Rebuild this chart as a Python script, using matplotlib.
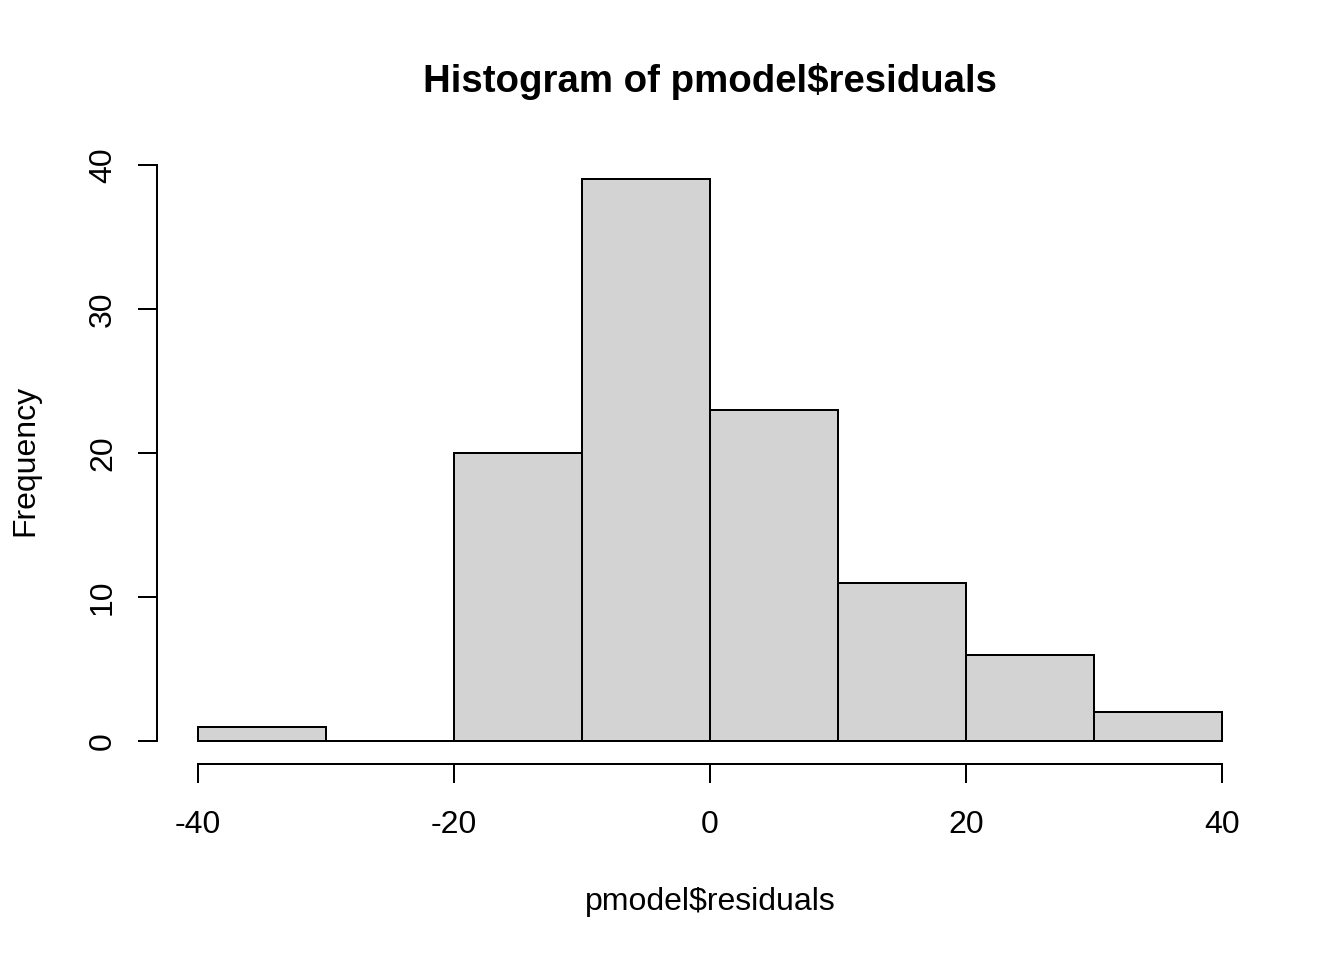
import matplotlib
matplotlib.use("Agg")
import matplotlib.pyplot as plt

plt.rcParams["font.family"] = ["Liberation Sans", "DejaVu Sans"]

# histogram of residuals (R default breaks)
bin_edges = [-40, -30, -20, -10, 0, 10, 20, 30, 40]
counts = [1, 0, 20, 39, 23, 11, 6, 2]
x_ticks = [-40, -20, 0, 20, 40]
y_ticks = [0, 10, 20, 30, 40]

LW = 1.44  # R lwd=1 at this resolution
FS = 23

fig = plt.figure(figsize=(13.44, 9.6), dpi=100)
ax = fig.add_axes([157 / 1344, 1 - 763.5 / 960, (1263 - 157) / 1344, (763.5 - 157) / 960])

widths = [b - a for a, b in zip(bin_edges[:-1], bin_edges[1:])]
ax.bar(bin_edges[:-1], counts, width=widths, align="edge",
       color="#D3D3D3", edgecolor="black", linewidth=LW)

ax.set_xlim(-43.2, 43.2)
ax.set_ylim(-1.56, 40.56)

for s in ("top", "right"):
    ax.spines[s].set_visible(False)
ax.spines["left"].set_bounds(0, 40)
ax.spines["bottom"].set_bounds(-40, 40)
for s in ("left", "bottom"):
    ax.spines[s].set_linewidth(LW)

ax.set_xticks(x_ticks)
ax.set_yticks(y_ticks)
ax.set_xticklabels([str(v) for v in x_ticks])
ax.set_yticklabels([str(v) for v in y_ticks], rotation=90, va="center")
ax.tick_params(axis="both", length=14, width=LW, labelsize=FS, direction="out")
ax.tick_params(axis="x", pad=19.5)
ax.tick_params(axis="y", pad=14)

fig.text(710 / 1344, 1 - 81.5 / 960, "Histogram of pmodel$residuals",
         ha="center", va="center", fontsize=27.6, fontweight="bold")
fig.text(710 / 1344, 1 - 902 / 960, "pmodel$residuals",
         ha="center", va="center", fontsize=FS)
fig.text(25 / 1344, 1 - 460 / 960, "Frequency", rotation=90,
         ha="center", va="center", fontsize=FS)

fig.savefig("out.png", dpi=100)
